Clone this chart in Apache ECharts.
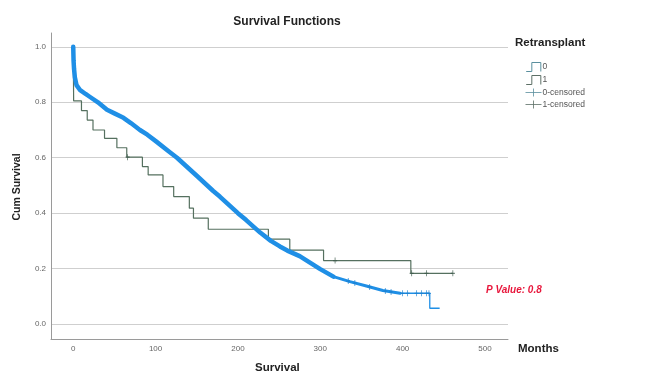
<!DOCTYPE html>
<html>
<head>
<meta charset="utf-8">
<script src="https://cdn.jsdelivr.net/npm/echarts@6/dist/echarts.min.js"></script>
<style>
  html, body { margin: 0; padding: 0; background: #fff; }
  #chart { width: 651px; height: 376px; }
</style>
</head>
<body>
<div id="chart"></div>
<script>
// Kaplan-Meier survival by retransplant status (months)

// Group 0: cumulative survival curve [months, survival]
const group0Body = [
  [0, 1.0], [0.4, 0.95], [1, 0.92], [2, 0.89], [4, 0.862], [8, 0.845],
  [15, 0.83], [20, 0.82], [30, 0.8], [41, 0.773], [50, 0.76], [61, 0.744],
  [70, 0.725], [81, 0.70], [90, 0.683], [101, 0.658], [115, 0.625],
  [126, 0.6], [150, 0.535], [170, 0.48], [178, 0.46], [190, 0.427],
  [200, 0.4], [210, 0.375], [227, 0.33], [240, 0.30], [251, 0.28],
  [260, 0.265], [275, 0.245], [300, 0.198], [316, 0.171]
];
const group0Taper = [
  [316, 0.171], [336, 0.153], [356, 0.137], [376, 0.121], [397, 0.111]
];
const group0Tail = [
  [397, 0.111], [433, 0.111], [433, 0.057], [445, 0.057]
];
// Group 0: censored observations visible in the tail
const group0Censored = [
  [334, 0.155], [342, 0.148], [360, 0.134], [379, 0.119], [386, 0.116],
  [400, 0.111], [406, 0.111], [417, 0.111], [423, 0.111], [429, 0.111], [432, 0.111]
];

// Group 1: step curve [event month, survival after event]
const group1Steps = [
  [0, 1.0], [0.5, 0.805], [10, 0.77], [17, 0.736], [24, 0.70], [38, 0.67],
  [53, 0.636], [65, 0.602], [84, 0.568], [91, 0.538], [109, 0.496],
  [122, 0.46], [141, 0.418], [146, 0.382], [164, 0.342], [237, 0.306],
  [263, 0.267], [304, 0.229], [410, 0.183], [461, 0.183]
];
// Group 1: censored observations
const group1Censored = [
  [66, 0.602], [318, 0.229], [411, 0.183], [429, 0.183], [461, 0.183]
];

// Axis tick values
const xTicks = [0, 100, 200, 300, 400, 500];
const yTicks = [0, 0.2, 0.4, 0.6, 0.8, 1.0];

const blue = '#1f8fe6';
const green = '#55705f';
const blueLegend = '#5a8f9e';
const greenLegend = '#5d6f66';
const font = '"Liberation Sans", Arial, sans-serif';

const stepIcon = 'path://M0,9 L5,9 L5,1 L13,1 L13,9';
const censorIcon = 'path://M0,5 L16,5 M8,1 L8,9';
const plusSymbol = 'path://M0,5 L10,5 M5,0 L5,10';

const chart = echarts.init(document.getElementById('chart'), null, { renderer: 'canvas' });

chart.setOption({
  animation: false,
  backgroundColor: '#fff',
  title: {
    text: 'Survival Functions',
    left: 282, top: 11, textAlign: 'center',
    textStyle: { fontFamily: font, fontSize: 12, fontWeight: 'bold', color: '#222' }
  },
  grid: { left: 51, right: 143, top: 33, bottom: 37, containLabel: false },
  xAxis: {
    type: 'value', min: -27, max: 528,
    axisLine: { show: true, onZero: false, lineStyle: { color: '#9a9a9a', width: 1 } },
    axisTick: { show: false, customValues: xTicks },
    axisLabel: {
      customValues: xTicks, margin: 6,
      fontFamily: font, fontSize: 8, color: '#666'
    },
    splitLine: { show: false }
  },
  yAxis: {
    type: 'value', min: -0.054, max: 1.05,
    axisLine: { show: true, onZero: false, lineStyle: { color: '#9a9a9a', width: 1 } },
    axisTick: { show: false, customValues: yTicks },
    axisLabel: {
      customValues: yTicks, margin: 5,
      fontFamily: font, fontSize: 8, color: '#666',
      formatter: v => v.toFixed(1)
    },
    splitLine: { show: true, lineStyle: { color: '#cfcfcf', width: 1 } }
  },
  legend: {
    orient: 'vertical', left: 520, top: 57,
    itemWidth: 16, itemHeight: 9, itemGap: 3,
    textStyle: { fontFamily: font, fontSize: 8.5, color: '#555', padding: [0, 0, 0, -4] },
    data: [
      { name: '0', icon: stepIcon, itemStyle: { color: 'rgba(0,0,0,0)', borderColor: blueLegend, borderWidth: 1 } },
      { name: '1', icon: stepIcon, itemStyle: { color: 'rgba(0,0,0,0)', borderColor: greenLegend, borderWidth: 1 } },
      { name: '0-censored', icon: censorIcon, itemStyle: { color: 'rgba(0,0,0,0)', borderColor: blueLegend, borderWidth: 1 } },
      { name: '1-censored', icon: censorIcon, itemStyle: { color: 'rgba(0,0,0,0)', borderColor: greenLegend, borderWidth: 1 } }
    ]
  },
  graphic: [
    { type: 'text', left: 515, top: 37,
      style: { text: 'Retransplant', fontFamily: font, fontSize: 11.5, fontWeight: 'bold', fill: '#222' } },
    { type: 'text', x: 17, y: 187, rotation: Math.PI / 2,
      style: { text: 'Cum Survival', fontFamily: font, fontSize: 10.5, fontWeight: 'bold', fill: '#222',
               align: 'center', verticalAlign: 'middle' } },
    { type: 'text', left: 255, top: 362,
      style: { text: 'Survival', fontFamily: font, fontSize: 11.5, fontWeight: 'bold', fill: '#222' } },
    { type: 'text', left: 518, top: 343,
      style: { text: 'Months', fontFamily: font, fontSize: 11.5, fontWeight: 'bold', fill: '#222' } },
    { type: 'text', left: 486, top: 285,
      style: { text: 'P Value: 0.8', fontFamily: font, fontSize: 10, fontWeight: 'bold',
               fontStyle: 'italic', fill: '#e8173c' } }
  ],
  series: [
    {
      name: '1', type: 'line', step: 'end', data: group1Steps, z: 2,
      showSymbol: false, symbol: 'none',
      lineStyle: { color: green, width: 1.2 }, itemStyle: { color: green }
    },
    {
      name: '0', type: 'line', data: group0Body, z: 3,
      showSymbol: false, symbol: 'none',
      lineStyle: { color: blue, width: 4.5, cap: 'round', join: 'round' }, itemStyle: { color: blue }
    },
    {
      name: '0', type: 'line', data: group0Taper, z: 3,
      showSymbol: false, symbol: 'none',
      lineStyle: { color: blue, width: 3, cap: 'round', join: 'round' }, itemStyle: { color: blue }
    },
    {
      name: '0', type: 'line', data: group0Tail, z: 3,
      showSymbol: false, symbol: 'none',
      lineStyle: { color: blue, width: 1.3 }, itemStyle: { color: blue }
    },
    {
      name: '0-censored', type: 'scatter', data: group0Censored, z: 4,
      symbol: plusSymbol, symbolSize: [4, 6],
      itemStyle: { color: 'rgba(0,0,0,0)', borderColor: '#1a7fd0', borderWidth: 1 }
    },
    {
      name: '1-censored', type: 'scatter', data: group1Censored, z: 4,
      symbol: plusSymbol, symbolSize: [4, 6],
      itemStyle: { color: 'rgba(0,0,0,0)', borderColor: '#3d5a4b', borderWidth: 1 }
    }
  ]
});
</script>
</body>
</html>
